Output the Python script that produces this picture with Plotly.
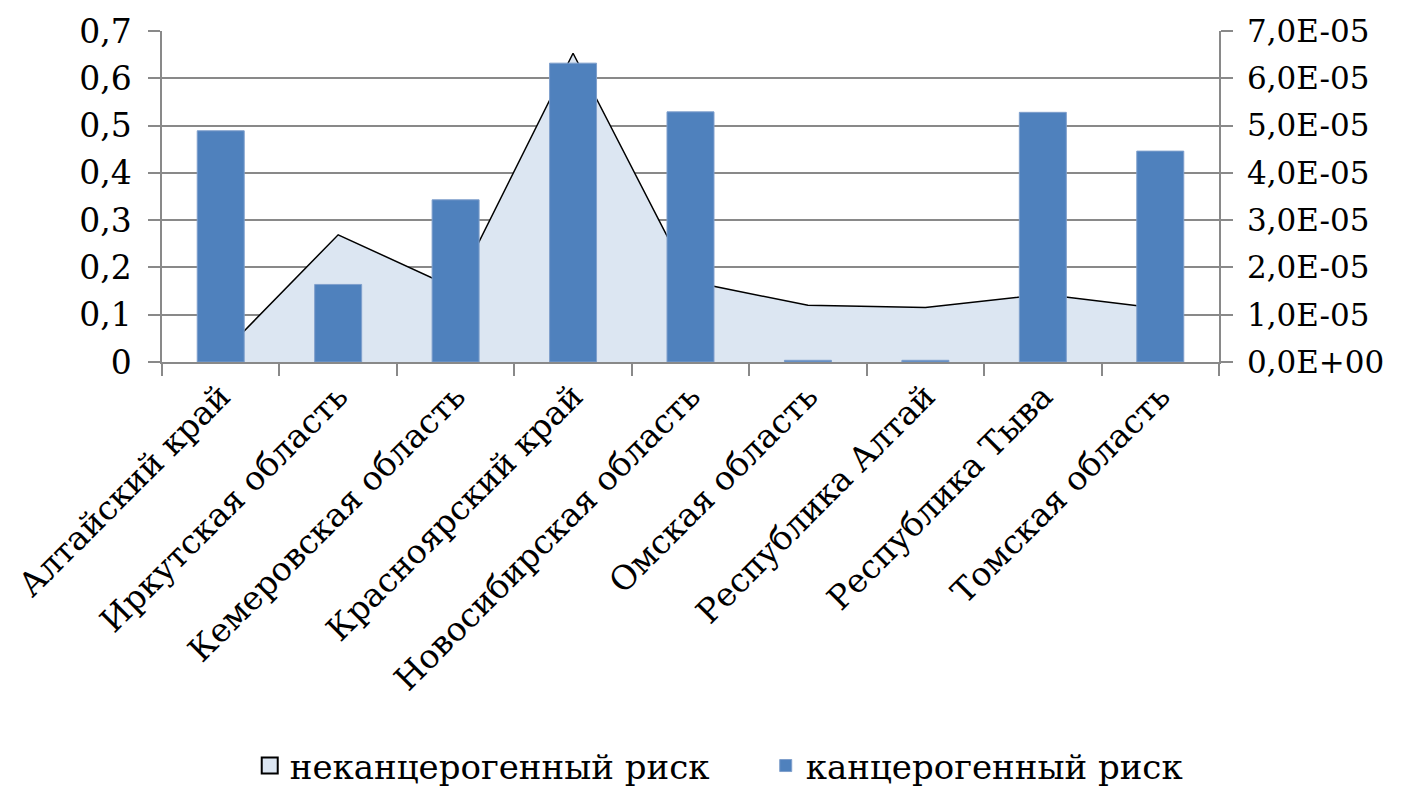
import plotly.graph_objects as go

categories = ["Алтайский край", "Иркутская область", "Кемеровская область",
              "Красноярский край", "Новосибирская область", "Омская область",
              "Республика Алтай", "Республика Тыва", "Томская область"]
noncarcinogenic = [0.015, 0.269, 0.155, 0.653, 0.170, 0.120, 0.115, 0.143, 0.113]
carcinogenic = [4.89e-5, 1.64e-5, 3.43e-5, 6.32e-5, 5.29e-5, 3.6e-7, 3.6e-7, 5.28e-5, 4.46e-5]
left_ticks = [0, 0.1, 0.2, 0.3, 0.4, 0.5, 0.6, 0.7]
right_ticks = [0, 1e-5, 2e-5, 3e-5, 4e-5, 5e-5, 6e-5, 7e-5]
right_ticktext = ["0,0E+00", "1,0E-05", "2,0E-05", "3,0E-05", "4,0E-05",
                  "5,0E-05", "6,0E-05", "7,0E-05"]

FONT = "DejaVu Serif"
GRID = "#898989"
AREA_FILL = "#DCE6F2"
BAR_COLOR = "#4F81BD"

fig = go.Figure()
fig.add_trace(go.Scatter(
    x=categories, y=noncarcinogenic, name="неканцерогенный риск",
    mode="lines", fill="tozeroy", fillcolor=AREA_FILL,
    line=dict(color="black", width=1.5), yaxis="y", showlegend=False,
))
# legend entry for the area series (square swatch with dark outline)
fig.add_trace(go.Scatter(
    x=[None], y=[None], name="неканцерогенный риск", mode="markers",
    marker=dict(symbol="square", size=20, color=AREA_FILL,
                line=dict(color="black", width=2)),
    yaxis="y", showlegend=True,
))
fig.add_trace(go.Bar(
    x=categories, y=carcinogenic, name="канцерогенный риск",
    marker=dict(color=BAR_COLOR, line=dict(color="#7F9FCC", width=1)),
    yaxis="y2",
))

fig.update_layout(
    width=1390, height=783,
    margin=dict(l=154, r=179, t=23, b=429, autoexpand=False),
    paper_bgcolor="white", plot_bgcolor="white",
    font=dict(family=FONT, size=34, color="black"),
    separators=", ",
    bargap=0.6,
    showlegend=True,
    legend=dict(orientation="h", x=0.083, xanchor="left",
                yref="container", y=0.032, yanchor="middle",
                font=dict(family=FONT, size=34),
                itemwidth=30, entrywidth=471, tracegroupgap=0),
    xaxis=dict(
        type="category", tickangle=-45, tickson="boundaries",
        ticks="outside", ticklen=12, tickcolor=GRID, tickwidth=1.5,
        showline=True, linecolor=GRID, linewidth=1.5,
        showgrid=False, range=[-0.5, 8.5], automargin=False,
        tickfont=dict(family=FONT, size=33),
    ),
    yaxis=dict(
        range=[0, 0.7], tickvals=left_ticks,
        showgrid=True, gridcolor=GRID, gridwidth=1.5,
        showline=True, linecolor=GRID, linewidth=1.5,
        ticks="outside", ticklen=12, tickcolor=GRID, tickwidth=1.5,
        ticklabelstandoff=10, zeroline=False, automargin=False,
        tickfont=dict(family=FONT, size=33),
    ),
    yaxis2=dict(
        range=[0, 7e-5], overlaying="y", side="right",
        tickvals=right_ticks, ticktext=right_ticktext,
        showgrid=False, showline=True, linecolor=GRID, linewidth=1.5,
        ticks="outside", ticklen=12, tickcolor=GRID, tickwidth=1.5,
        ticklabelstandoff=8, zeroline=False, automargin=False,
        tickfont=dict(family=FONT, size=31),
    ),
)

fig.write_html("out.html")
